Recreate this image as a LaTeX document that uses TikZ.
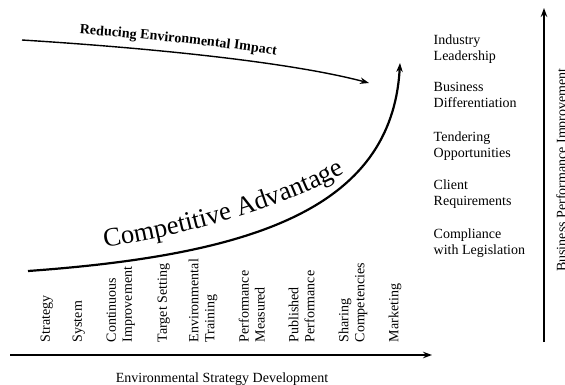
\documentclass[tikz,border=0pt]{standalone}
\usepackage{fontspec}
\setmainfont{Liberation Serif}
\usetikzlibrary{arrows.meta,decorations.text}

\begin{document}
\begin{tikzpicture}[x=1pt,y=-1pt,>={Stealth[length=9pt,width=6.5pt]},line width=1.4pt,
  font=\fontsize{14}{16}\selectfont,
  item/.style={rotate=90,anchor=north west,align=left,inner sep=0pt},
  goal/.style={anchor=north west,align=left,inner sep=0pt}]
  \useasboundingbox (0,0) rectangle (565,384);

  % axes
  \coordinate (xs) at (10,355);
  \coordinate (xe) at (432,355);
  \draw[->] (xs) -- (xe);
  \node[anchor=base] (xlab) at (222,382) {Environmental Strategy Development};
  \coordinate (ys) at (544,342);
  \coordinate (ye) at (544,8);
  \draw[->] (ys) -- (ye);
  \node[rotate=90,anchor=base] (ylab) at (566,170) {Business Performance Improvement};

  % stages along the bottom
  \foreach \px/\txt [count=\i] in {40/Strategy, 72/System, 106/{Continuous\\Improvement},
      157/Target Setting, 188/{Environmental\\Training}, 238/{Performance\\Measured},
      288/{Published\\Performance}, 338/{Sharing\\Competencies}, 388/Marketing}
    \node[item] (s\i) at (\px,343) {\txt};

  % benefits on the right
  \foreach \py/\txt [count=\i] in {34/{Industry\\Leadership}, 82/{Business\\Differentiation},
      131/{Tendering\\Opportunities}, 179/{Client\\Requirements}, 228/{Compliance\\with Legislation}}
    \node[goal] (g\i) at (433,\py) {\txt};

  % reducing impact
  \coordinate (r0) at (22,40);
  \coordinate (r1) at (369,83);
  \draw[->] (r0) .. controls (150,48) and (290,62) .. (r1);
  \path[decorate,decoration={text along path,raise=10pt,text align={left indent=57pt},
      text={|\bfseries\fontsize{14}{16}\selectfont|Reducing Environmental Impact}}]
    (r0) .. controls (150,48) and (290,62) .. (r1);

  % competitive advantage
  \coordinate (c0) at (28,271);
  \coordinate (c1) at (400,63);
  \draw[->,line width=2.2pt] (c0) .. controls (250,255) and (392,210) .. (c1);
  \coordinate (t0) at (103,248);
  \coordinate (t1) at (370,158);
  \path[decorate,decoration={text along path,text align={left indent=2pt},
      text={|\fontsize{26.5}{30}\selectfont|Competitive Advantage}}]
    (t0) .. controls (180,235) and (290,210) .. (t1);
\end{tikzpicture}
\end{document}
